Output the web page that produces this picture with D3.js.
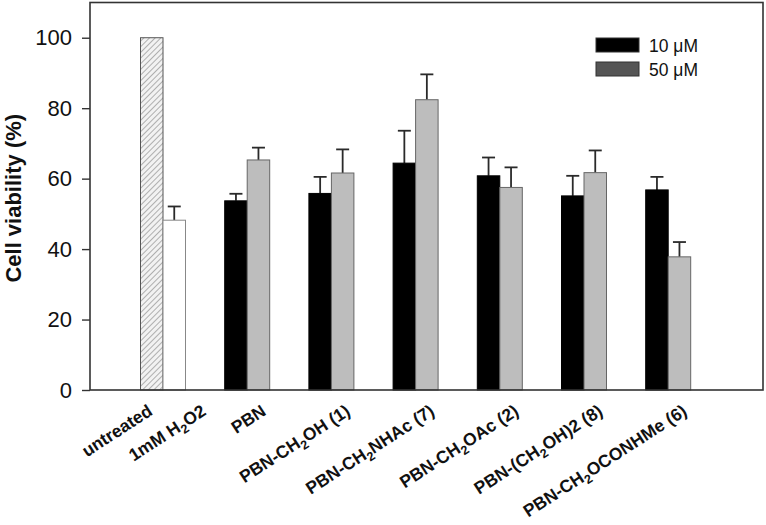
<!DOCTYPE html>
<html>
<head>
<meta charset="utf-8">
<script src="https://cdn.jsdelivr.net/npm/d3@7"></script>
<style>
  html, body { margin: 0; padding: 0; background: #fff; }
  svg { display: block; font-family: "Liberation Sans", Arial, sans-serif; }
</style>
</head>
<body>
<svg id="chart" width="766" height="525"></svg>
<script>
// ---------- data ----------
const controls = ["untreated", "1mM H_2O2"];
const controlValues = [100, 48.2];
const controlErrors = [0, 3.9];

const compounds = ["PBN", "PBN-CH_2OH (1)", "PBN-CH_2NHAc (7)", "PBN-CH_2OAc (2)", "PBN-(CH_2OH)2 (8)", "PBN-CH_2OCONHMe (6)"];
const values10 = [53.7, 55.8, 64.4, 60.8, 55.1, 56.8];
const errors10 = [2.0, 4.7, 9.2, 5.2, 5.7, 3.7];
const values50 = [65.3, 61.6, 82.4, 57.5, 61.7, 37.8];
const errors50 = [3.5, 6.7, 7.2, 5.7, 6.3, 4.2];

const seriesLabels = ["10 \u03BCM", "50 \u03BCM"];
const yTicks = [0, 20, 40, 60, 80, 100];
const yTitle = "Cell viability (%)";

// ---------- layout ----------
const svg = d3.select("#chart");
const frame = { left: 90, right: 763, top: 2.5, bottom: 390 };

const groups = ["controls"].concat(compounds);
const x = d3.scaleBand()
  .domain(groups)
  .range([120.9, 710.3])
  .paddingInner(0.4656)
  .paddingOuter(0.2328);
const x1 = d3.scaleBand().domain([0, 1]).range([0, x.bandwidth()]);

const y = d3.scaleLinear().domain([0, 110]).range([frame.bottom, frame.top]);

// hatch pattern
const defs = svg.append("defs");
const pat = defs.append("pattern")
  .attr("id", "hatch")
  .attr("patternUnits", "userSpaceOnUse")
  .attr("width", 4).attr("height", 4)
  .attr("patternTransform", "rotate(45)");
pat.append("rect").attr("width", 4).attr("height", 4).attr("fill", "#f2f2f2");
pat.append("line").attr("x1", 0).attr("y1", 0).attr("x2", 0).attr("y2", 4)
  .attr("stroke", "#8a8a8a").attr("stroke-width", 1.3);

// ---------- bars ----------
const bars = [];
controls.forEach((c, i) => bars.push({
  group: "controls", slot: i, value: controlValues[i], err: controlErrors[i],
  fill: i === 0 ? "url(#hatch)" : "#ffffff", stroke: i === 0 ? "#555" : "#888"
}));
compounds.forEach((c, i) => {
  bars.push({ group: c, slot: 0, value: values10[i], err: errors10[i], fill: "#000000", stroke: "#000" });
  bars.push({ group: c, slot: 1, value: values50[i], err: errors50[i], fill: "#bdbdbd", stroke: "#666" });
});

const barG = svg.append("g");
barG.selectAll("g.err").data(bars.filter(d => d.err > 0)).enter().append("g")
  .each(function (d) {
    const cx = x(d.group) + x1(d.slot) + x1.bandwidth() / 2;
    const g = d3.select(this);
    g.append("line").attr("x1", cx).attr("x2", cx)
      .attr("y1", y(d.value)).attr("y2", y(d.value + d.err))
      .attr("stroke", "#2a2a2a").attr("stroke-width", 1.8);
    g.append("line").attr("x1", cx - 6.5).attr("x2", cx + 6.5)
      .attr("y1", y(d.value + d.err)).attr("y2", y(d.value + d.err))
      .attr("stroke", "#2a2a2a").attr("stroke-width", 1.8);
  });
barG.selectAll("rect.bar").data(bars).enter().append("rect")
  .attr("class", "bar")
  .attr("x", d => x(d.group) + x1(d.slot))
  .attr("width", x1.bandwidth())
  .attr("y", d => y(d.value))
  .attr("height", d => y(0) - y(d.value))
  .attr("fill", d => d.fill)
  .attr("stroke", d => d.stroke)
  .attr("stroke-width", 1);

// ---------- frame & axes ----------
svg.append("rect")
  .attr("x", frame.left).attr("y", frame.top)
  .attr("width", frame.right - frame.left).attr("height", frame.bottom - frame.top)
  .attr("fill", "none").attr("stroke", "#333").attr("stroke-width", 1.6);

const yAxis = svg.append("g")
  .attr("transform", `translate(${frame.left},0)`)
  .call(d3.axisLeft(y).tickValues(yTicks).tickSize(8).tickPadding(10));
yAxis.select(".domain").remove();
yAxis.selectAll(".tick line").attr("stroke", "#333").attr("stroke-width", 1.4);
yAxis.selectAll(".tick text")
  .attr("font-size", 22).attr("fill", "#111")
  .attr("font-family", "'Liberation Sans', Arial, sans-serif");

svg.append("text")
  .attr("transform", `translate(21,${(frame.top + frame.bottom) / 2 + 2}) rotate(-90)`)
  .attr("text-anchor", "middle")
  .attr("font-size", 22).attr("font-weight", "bold").attr("fill", "#111")
  .text(yTitle);

// ---------- x labels ----------
function addLabel(str, ax, ay) {
  const t = svg.append("text")
    .attr("transform", `translate(${ax},${ay}) rotate(-33)`)
    .attr("text-anchor", "end")
    .attr("font-size", 17.5).attr("font-weight", "bold").attr("fill", "#111");
  const parts = str.split(/(_\d)/).filter(p => p);
  let shiftBack = false;
  parts.forEach(p => {
    if (p[0] === "_") {
      t.append("tspan").attr("font-size", 12.5).attr("dy", 4.5).text(p.slice(1));
      shiftBack = true;
    } else {
      const sp = t.append("tspan").text(p);
      if (shiftBack) { sp.attr("dy", -4.5); shiftBack = false; }
    }
  });
}
const labelY = 414;
const cg = x("controls");
addLabel(controls[0], cg + x1(0) + x1.bandwidth() / 2 + 2, labelY);
addLabel(controls[1], cg + x1(1) + x1.bandwidth() / 2 + 33, labelY);
compounds.forEach(c => addLabel(c, x(c) + x.bandwidth() / 2 + 20, labelY));

// ---------- legend ----------
const legendFills = ["#000000", "#555555"];
const lg = svg.append("g");
seriesLabels.forEach((s, i) => {
  lg.append("rect").attr("x", 596).attr("y", 38 + i * 24)
    .attr("width", 43).attr("height", 14)
    .attr("fill", legendFills[i]).attr("stroke", "#333").attr("stroke-width", 1);
  lg.append("text").attr("x", 649).attr("y", 51.5 + i * 24)
    .attr("font-size", 17.5).attr("fill", "#111").text(s);
});
</script>
</body>
</html>
